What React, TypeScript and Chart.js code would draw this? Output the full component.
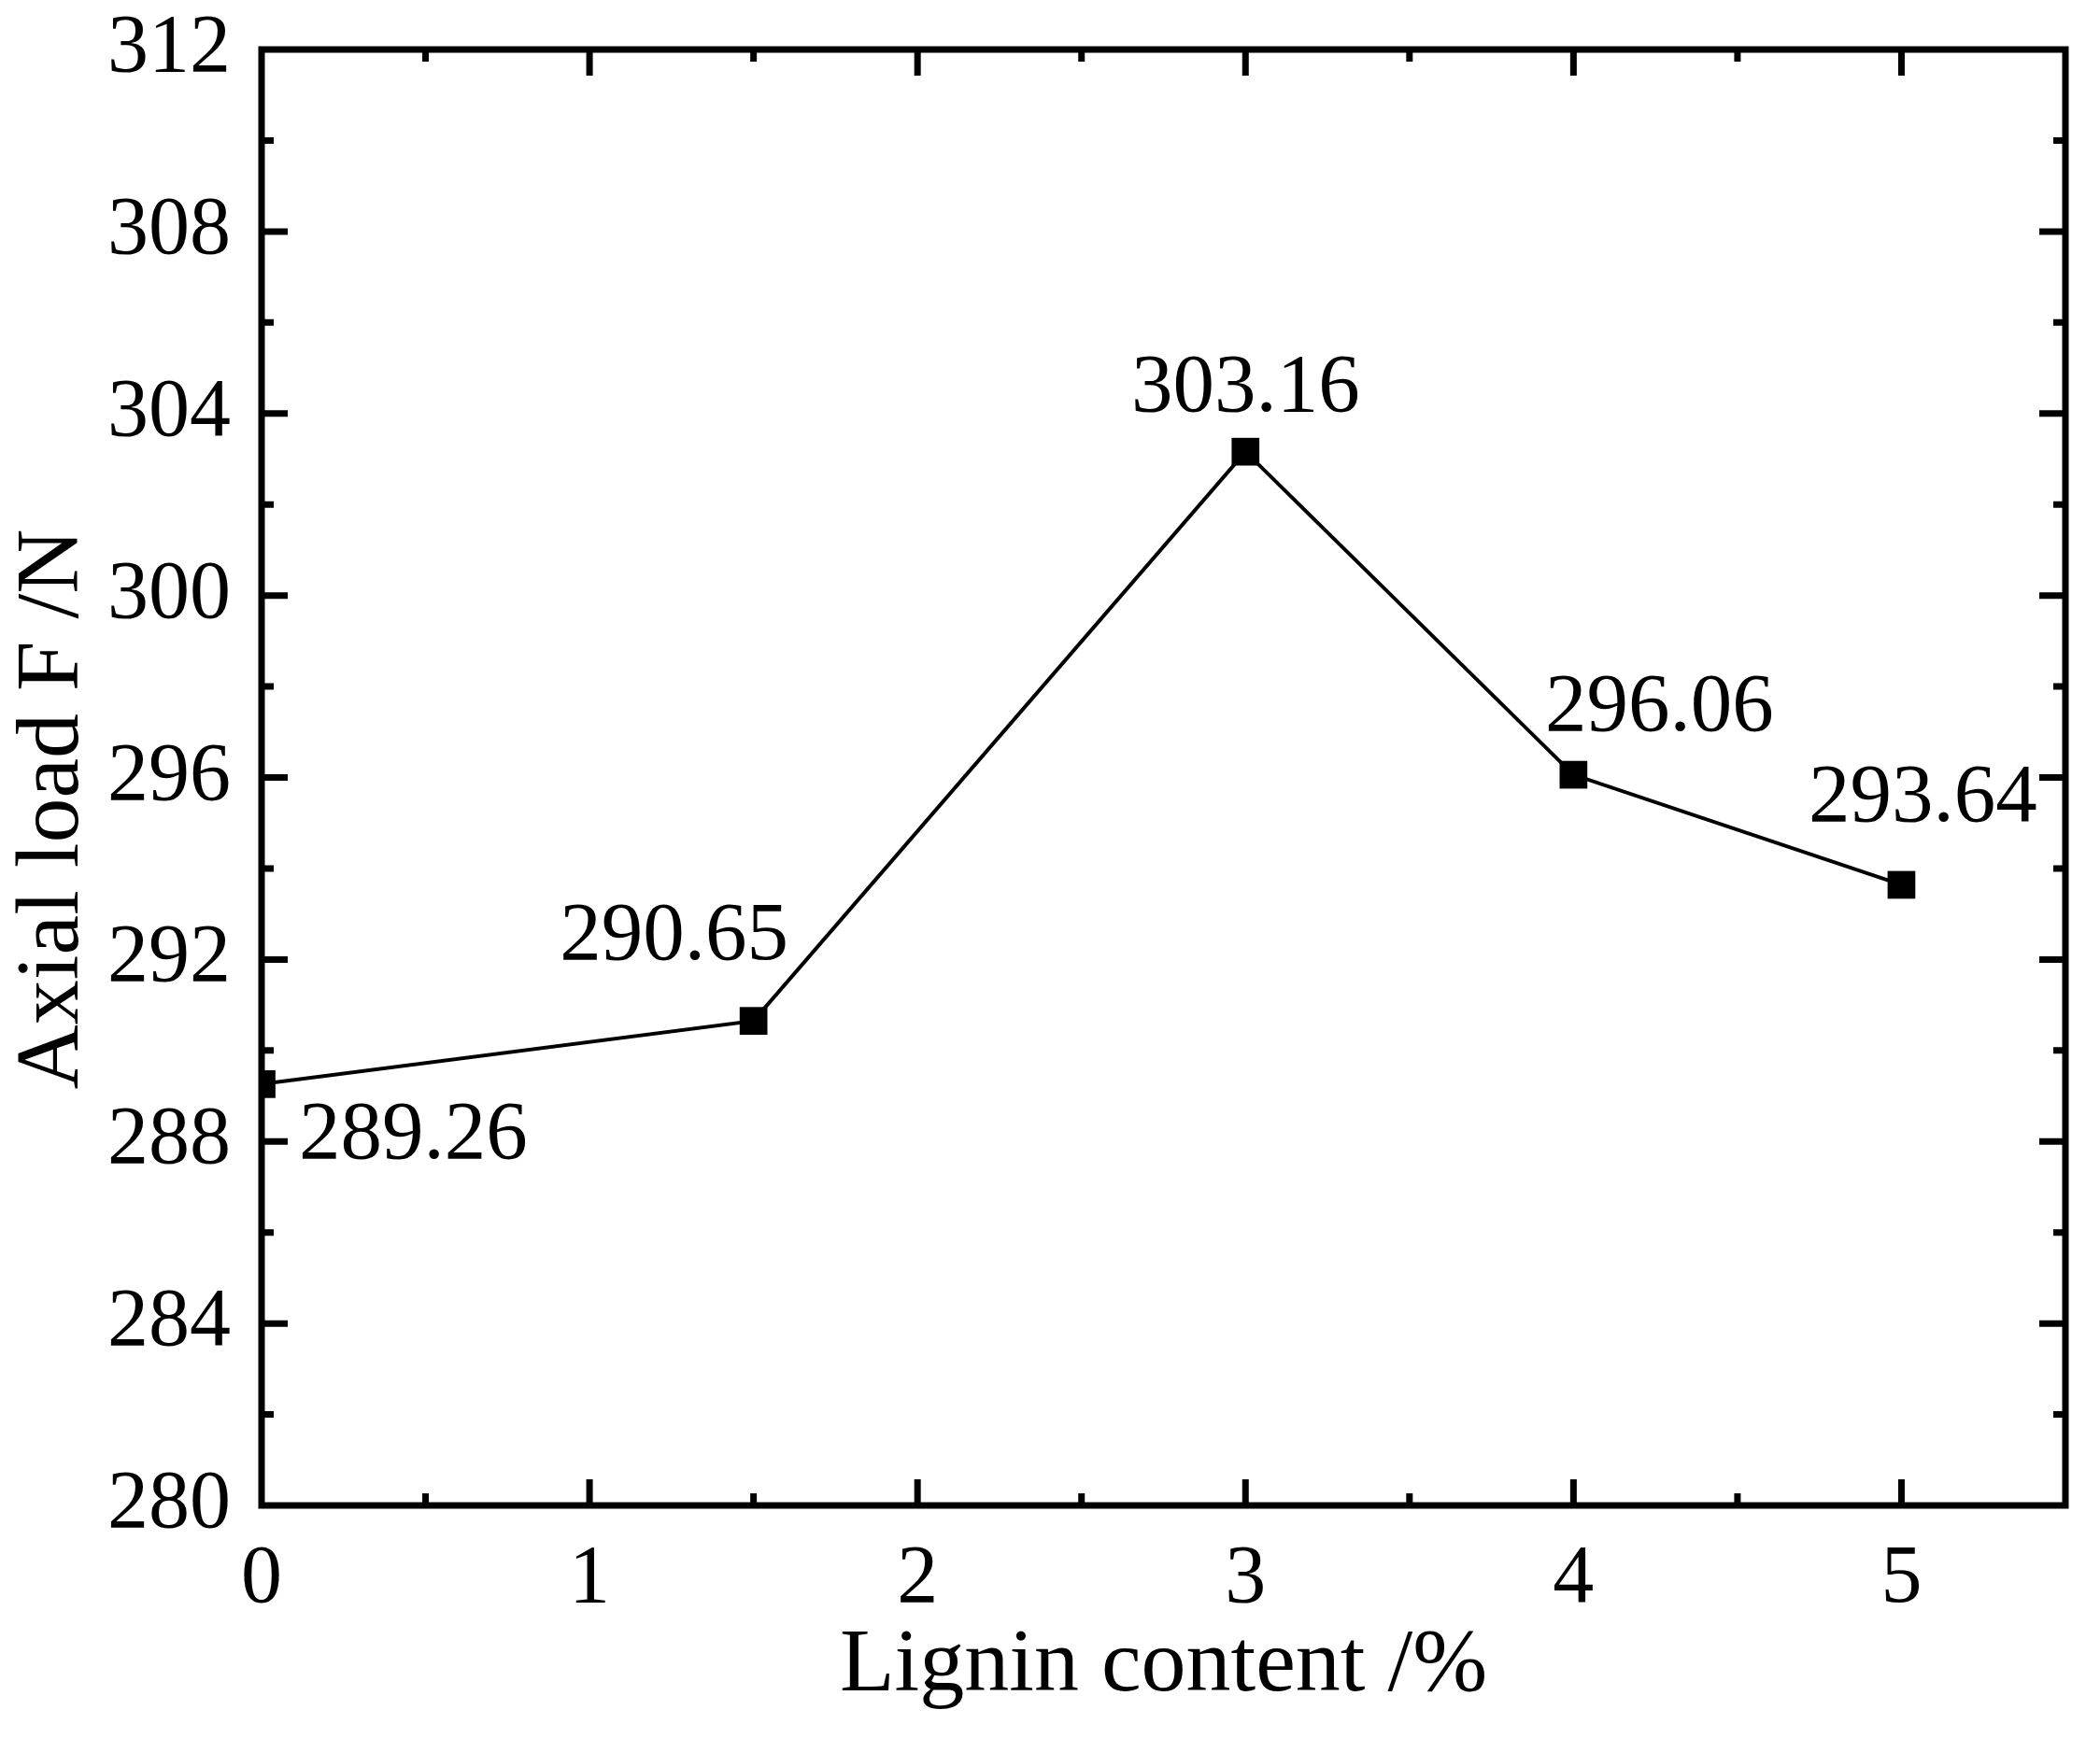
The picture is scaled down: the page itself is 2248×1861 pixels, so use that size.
import { useEffect, useRef } from "react";
import { Chart, registerables } from "chart.js";

Chart.register(...registerables);

const lignin = [0, 1.5, 3, 4, 5];
const axialLoad = [289.26, 290.65, 303.16, 296.06, 293.64];
const xTicks = [0, 1, 2, 3, 4, 5];
const yTicks = [280, 284, 288, 292, 296, 300, 304, 308, 312];
const xTitle = "Lignin content /%";
const yTitle = "Axial load F /N";

const W = 2248;
const H = 1861;
const PLOT = { left: 280, right: 2211, top: 53, bottom: 1612 };

// where each value label sits relative to its point
const labelPos = [
  { dx: 40, dy: 56, align: "left" },
  { dx: -85, dy: -90, align: "center" },
  { dx: 0, dy: -67, align: "center" },
  { dx: 92, dy: -71, align: "center" },
  { dx: 23, dy: -92, align: "center" },
];

const serif = "'Liberation Serif', 'Times New Roman', serif";

const framePlugin = {
  id: "frame",
  beforeDatasetsDraw(chart: any) {
    const { ctx, chartArea: a, scales } = chart;
    const xs = scales.x;
    const ys = scales.y;
    const major = 28;
    const minor = 13;
    ctx.save();
    ctx.strokeStyle = "#000";
    ctx.lineWidth = 7;
    ctx.beginPath();
    const xMarks: [number, number][] = [];
    xTicks.forEach((v) => {
      xMarks.push([v, major]);
      xMarks.push([v + 0.5, minor]);
    });
    xMarks.forEach(([v, len]) => {
      const px = xs.getPixelForValue(v);
      if (px <= a.left + 1 || px >= a.right - 1) return;
      ctx.moveTo(px, a.bottom);
      ctx.lineTo(px, a.bottom - len);
      ctx.moveTo(px, a.top);
      ctx.lineTo(px, a.top + len);
    });
    const yMarks: [number, number][] = [];
    yTicks.forEach((v, i) => {
      yMarks.push([v, major]);
      if (i < yTicks.length - 1) yMarks.push([v + 2, minor]);
    });
    yMarks.forEach(([v, len]) => {
      const py = ys.getPixelForValue(v);
      if (py <= a.top + 1 || py >= a.bottom - 1) return;
      ctx.moveTo(a.left, py);
      ctx.lineTo(a.left + len, py);
      ctx.moveTo(a.right, py);
      ctx.lineTo(a.right - len, py);
    });
    ctx.stroke();
    ctx.strokeRect(a.left, a.top, a.right - a.left, a.bottom - a.top);
    ctx.restore();
  },
  afterDatasetsDraw(chart: any) {
    const { ctx, chartArea: a } = chart;
    const meta = chart.getDatasetMeta(0);
    ctx.save();
    ctx.fillStyle = "#000";
    ctx.font = `89px ${serif}`;
    ctx.textBaseline = "middle";
    meta.data.forEach((pt: any, i: number) => {
      const p = labelPos[i];
      ctx.textAlign = p.align;
      ctx.fillText(axialLoad[i].toFixed(2), pt.x + p.dx, pt.y + p.dy);
    });

    // y axis title, rotated
    ctx.font = `96px ${serif}`;
    ctx.textAlign = "center";
    ctx.textBaseline = "alphabetic";
    ctx.translate(83, (a.top + a.bottom) / 2 + 34);
    ctx.rotate(-Math.PI / 2);
    ctx.fillText(yTitle, 0, 0);
    ctx.restore();
  },
};

export default function App() {
  const canvasRef = useRef<HTMLCanvasElement>(null);

  useEffect(() => {
    document.body.style.margin = "0";
    const ctx = canvasRef.current!.getContext("2d")!;

    const chart = new Chart(ctx, {
      type: "line",
      data: {
        datasets: [
          {
            data: lignin.map((x, i) => ({ x, y: axialLoad[i] })),
            borderColor: "#000",
            backgroundColor: "#000",
            borderWidth: 4,
            pointStyle: "rect",
            pointRadius: 21,
            pointBorderWidth: 0,
            tension: 0,
          },
        ],
      },
      options: {
        responsive: false,
        animation: false,
        events: [],
        layout: {
          padding: { top: PLOT.top, right: W - PLOT.right, left: 0, bottom: 0 },
        },
        plugins: {
          legend: { display: false },
          tooltip: { enabled: false },
        },
        scales: {
          x: {
            type: "linear",
            min: 0,
            max: 5.5,
            grid: { display: false, drawTicks: false },
            border: { display: false },
            ticks: {
              stepSize: 1,
              includeBounds: false,
              color: "#000",
              padding: 27,
              maxRotation: 0,
              font: { family: serif, size: 88 },
            },
            title: {
              display: true,
              text: xTitle,
              color: "#000",
              font: { family: serif, size: 96 },
              padding: { top: 0, bottom: 19 },
            },
            afterFit(scale: any) {
              scale.height = H - PLOT.bottom;
              scale.paddingLeft = 0;
              scale.paddingRight = 0;
            },
          },
          y: {
            type: "linear",
            min: 280,
            max: 312,
            grid: { display: false, drawTicks: false },
            border: { display: false },
            ticks: {
              stepSize: 4,
              color: "#000",
              padding: 33,
              font: { family: serif, size: 88 },
            },
            afterFit(scale: any) {
              scale.width = PLOT.left;
              scale.paddingTop = 0;
              scale.paddingBottom = 0;
            },
          },
        },
      },
      plugins: [framePlugin],
    });

    return () => {
      chart.destroy();
    };
  }, []);

  return (
    <div style={{ width: W, height: H, background: "#fff" }}>
      <canvas ref={canvasRef} width={W} height={H} style={{ display: "block" }} />
    </div>
  );
}
